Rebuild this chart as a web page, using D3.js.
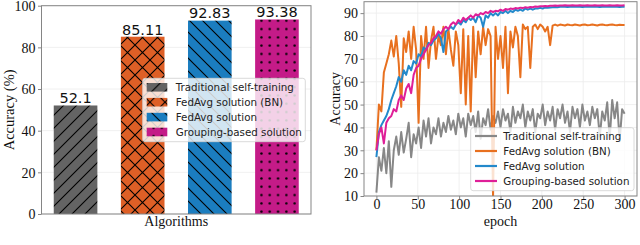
<!DOCTYPE html>
<html>
<head>
<meta charset="utf-8">
<script src="https://cdn.jsdelivr.net/npm/d3@7/dist/d3.min.js"></script>
<style>
  body { margin: 0; background: #fff; }
  svg { display: block; }
</style>
</head>
<body>
<div id="chart"></div>
<script>
// ---- data ----
const algorithms = ['Traditional self-training', 'FedAvg solution (BN)', 'FedAvg solution', 'Grouping-based solution'];
const finalAccuracy = [52.1, 85.11, 92.83, 93.38];
const barTicks = [0, 20, 40, 60, 80, 100];

const epochs = [0,3,6,9,12,15,18,21,24,27,30,33,36,39,42,45,48,51,54,57,60,63,66,69,72,75,78,81,84,87,90,93,96,99,
  102,105,108,111,114,117,120,123,126,129,132,135,138,141,144,147,150,153,156,159,162,165,168,171,174,177,180,183,186,189,
  192,195,198,201,204,207,210,213,216,219,222,225,228,231,234,237,240,243,246,249,252,255,258,261,264,267,270,273,276,279,
  282,285,288,291,294,297,300];
const epochTicks = [0, 50, 100, 150, 200, 250, 300];
const accTicks = [10, 20, 30, 40, 50, 60, 70, 80, 90];

const selfTraining = [11.5,27,21,31,20,34,14,30,36,28, 38,29,35,42,27,37,33,40,31,43, 36,44,33,40,37,44,36,42,38,45,
  39,43,37,46,40,44,36,46,41,45, 38,47,35,44,41,48,39,45,42,47, 40,48,43,46,38,49,42,47,44,50,
  40,47,43,48,38,46,44,50,41,47, 43,49,39,48,44,50,42,47,38,49, 44,48,40,50,43,47,41,49,44,48,
  36,47,43,51,35,52,44,51,34,48, 46];
const fedAvgBN = [30,50,47,64,68,72,78,71,80,68, 49,79,73,82,70,84,74,42,80,70, 84,66,78,84,70,80,76,84,72,83,
  74,67,82,76,55,83,50,80,47,84, 62,82,72,84,76,83,80,9,84,70, 80,66,84,55,82,75,84,80,62,85,
  83,84,66,84,85,83,85,84,82,84, 76,84.5,85,84.5,85,
  84.8,84.6,85,84.8,84.7,85,84.8,84.6,84.9,85, 84.7,84.8,85,84.8,84.6,84.9,85,84.8,84.7,84.9, 85,84.8,84.7,84.9,84.8,84.8];
const fedAvg = [27,38,41,43,45,48,52,55,58,62, 60,65,63,67,65,69,68,72,71,75, 74,77,76,78,79,81,79,73,82,83,
  84,83,85,86,85,87,86,88,87,88, 86,89,88,84,89,88,90,89,90,89, 90.5,90,91,90,91,90.5,91.5,91,91.5,91,
  92,91.5,92,91.5,92,92,92.3,92,92.5,92.3, 92.5,92.6,92.7,92.6,92.8,
  92.8,92.8,92.7,92.8,92.8,92.9,92.8,92.8,92.7,92.8, 92.8,92.8,92.9,92.8,92.8,92.7,92.8,92.8,92.8,92.9, 92.8,92.8,92.8,92.7,92.8,92.8];
const grouping = [30,37,40,33,42,44,45,48,47,52, 54,52,57,59,55,63,66,67,70,72, 74,76,77,79,80,82,81,83,84,83,
  85,86,85,87,86,88,87,88,89,88, 89.5,89,90,89.5,90.5,90,91,90.5,91,90.8, 91.5,91,91.8,91.5,92,91.8,92.2,92,92.4,92.2,
  92.6,92.4,92.7,92.6,92.9,92.8,93,93,93.1,93, 93.2,93.2,93.3,93.2,93.3,
  93.3,93.4,93.3,93.3,93.4,93.3,93.3,93.4,93.3,93.3, 93.4,93.3,93.3,93.4,93.3,93.3,93.4,93.3,93.3,93.4, 93.3,93.3,93.4,93.3,93.3,93.4];

const curves = [selfTraining, fedAvgBN, fedAvg, grouping];

// ---- style ----
const barColors = ['#646464', '#de5f26', '#1b7dbf', '#c41b88'];
const hatchKinds = ['/', 'x', '\\', '.'];
const lineColors = ['#878787', '#e8701f', '#2389cb', '#df1f98'];
const serif = '"Liberation Serif", "DejaVu Serif", serif';
const sans = '"DejaVu Sans", sans-serif';
const spineColor = '#858585';
const gridColor = '#ececec';

const svg = d3.select('#chart').append('svg')
  .attr('width', 640).attr('height', 245)
  .attr('viewBox', '0 0 640 245');
svg.append('rect').attr('width', 640).attr('height', 245).attr('fill', '#fff');

const defs = svg.append('defs');

// 填充图案（matplotlib hatch）
function addHatch(id, color, kind) {
  const s = kind === 'x' ? 15 : kind === '.' ? 8.3 : 13;
  const p = defs.append('pattern').attr('id', id)
    .attr('patternUnits', 'userSpaceOnUse').attr('width', s).attr('height', s);
  p.append('rect').attr('width', s).attr('height', s).attr('fill', color);
  const fwd = `M0,${s} L${s},0 M-3,3 L3,-3 M${s - 3},${s + 3} L${s + 3},${s - 3}`;
  const back = `M0,0 L${s},${s} M-3,${s - 3} L3,${s + 3} M${s - 3},-3 L${s + 3},3`;
  if (kind === '.') {
    p.append('circle').attr('cx', s / 2).attr('cy', s / 2).attr('r', 1.2).attr('fill', '#000');
  } else {
    const d = kind === '/' ? fwd : kind === '\\' ? back : fwd + ' ' + back;
    p.append('path').attr('d', d).attr('stroke', '#000').attr('stroke-width', 1.1).attr('fill', 'none');
  }
}
barColors.forEach((c, i) => addHatch('hatch' + i, c, hatchKinds[i]));

// ================= left: bar chart =================
const L = { left: 41.5, right: 311, top: 5.7, bottom: 214 };
const xBar = d3.scaleLinear().domain([-0.5075, 3.5075]).range([L.left, L.right]);
const yBar = d3.scaleLinear().domain([0, 100]).range([L.bottom, L.top]);
const barW = 0.65;

const left = svg.append('g');

left.append('g').selectAll('line').data(barTicks).join('line')
  .attr('x1', L.left).attr('x2', L.right)
  .attr('y1', d => yBar(d)).attr('y2', d => yBar(d))
  .attr('stroke', gridColor).attr('stroke-width', 0.8);

left.append('g').selectAll('rect').data(finalAccuracy).join('rect')
  .attr('x', (d, i) => xBar(i - barW / 2))
  .attr('width', (d, i) => xBar(i + barW / 2) - xBar(i - barW / 2))
  .attr('y', d => yBar(d))
  .attr('height', d => yBar(0) - yBar(d))
  .attr('fill', (d, i) => `url(#hatch${i})`);

left.append('g').selectAll('text').data(finalAccuracy).join('text')
  .attr('x', (d, i) => xBar(i))
  .attr('y', d => yBar(d) - 2.2)
  .attr('text-anchor', 'middle')
  .attr('font-family', sans).attr('font-size', 14.5).attr('fill', '#111')
  .text(d => d);

const yAxisL = left.append('g').attr('transform', `translate(${L.left},0)`)
  .call(d3.axisLeft(yBar).tickValues(barTicks).tickSize(3.5).tickPadding(2.5));
yAxisL.select('.domain').remove();
yAxisL.selectAll('line').attr('stroke', spineColor);
yAxisL.selectAll('text').attr('font-family', serif).attr('font-size', 14).attr('fill', '#111').attr('dy', '0.34em');

left.append('rect')
  .attr('x', L.left).attr('y', L.top)
  .attr('width', L.right - L.left).attr('height', L.bottom - L.top)
  .attr('fill', 'none').attr('stroke', spineColor).attr('stroke-width', 1);

left.append('text')
  .attr('x', (L.left + L.right) / 2).attr('y', 226)
  .attr('text-anchor', 'middle')
  .attr('font-family', serif).attr('font-size', 14).attr('fill', '#111')
  .text('Algorithms');

left.append('text')
  .attr('transform', `translate(13.5,${(L.top + L.bottom) / 2}) rotate(-90)`)
  .attr('text-anchor', 'middle')
  .attr('font-family', serif).attr('font-size', 14.5).attr('fill', '#111')
  .text('Accuracy (%)');

// legend (left)
const legL = left.append('g');
legL.append('rect')
  .attr('x', 142.7).attr('y', 78.3).attr('width', 162.6).attr('height', 63.4).attr('rx', 2.5)
  .attr('fill', '#fff').attr('fill-opacity', 0.8).attr('stroke', '#d0d0d0').attr('stroke-width', 0.8);
const legLRows = legL.selectAll('g.row').data(algorithms).join('g')
  .attr('class', 'row')
  .attr('transform', (d, i) => `translate(0,${87.3 + i * 14.9})`);
legLRows.append('rect')
  .attr('x', 146.7).attr('y', -4.3).attr('width', 20.6).attr('height', 8.6)
  .attr('fill', (d, i) => `url(#hatch${i})`);
legLRows.append('text')
  .attr('x', 175.7).attr('y', 0).attr('dy', '0.36em')
  .attr('font-family', sans).attr('font-size', 10.3).attr('fill', '#222')
  .text(d => d);

// ================= right: line chart =================
const R = { left: 364, right: 637, top: 1.7, bottom: 196 };
const xLine = d3.scaleLinear().domain([-15, 315]).range([R.left, R.right]);
const yLine = d3.scaleLinear().domain([10, 95]).range([R.bottom, R.top]);

const right = svg.append('g');

right.append('g').selectAll('line').data(accTicks).join('line')
  .attr('x1', R.left).attr('x2', R.right)
  .attr('y1', d => yLine(d)).attr('y2', d => yLine(d))
  .attr('stroke', gridColor).attr('stroke-width', 0.8);
right.append('g').selectAll('line').data(epochTicks).join('line')
  .attr('y1', R.top).attr('y2', R.bottom)
  .attr('x1', d => xLine(d)).attr('x2', d => xLine(d))
  .attr('stroke', gridColor).attr('stroke-width', 0.8);

defs.append('clipPath').attr('id', 'plotClip')
  .append('rect').attr('x', R.left).attr('y', R.top)
  .attr('width', R.right - R.left).attr('height', R.bottom - R.top);

const line = d3.line().x((d, i) => xLine(epochs[i])).y(d => yLine(d));
right.append('g').attr('clip-path', 'url(#plotClip)')
  .selectAll('path').data(curves).join('path')
  .attr('d', line)
  .attr('fill', 'none')
  .attr('stroke', (d, i) => lineColors[i])
  .attr('stroke-width', 2)
  .attr('stroke-linejoin', 'round');

const yAxisR = right.append('g').attr('transform', `translate(${R.left},0)`)
  .call(d3.axisLeft(yLine).tickValues(accTicks).tickSize(3.5).tickPadding(2.5));
const xAxisR = right.append('g').attr('transform', `translate(0,${R.bottom})`)
  .call(d3.axisBottom(xLine).tickValues(epochTicks).tickSize(3.5));
[yAxisR, xAxisR].forEach(a => {
  a.select('.domain').remove();
  a.selectAll('line').attr('stroke', spineColor);
  a.selectAll('text').attr('font-family', serif).attr('font-size', 14).attr('fill', '#111');
});
yAxisR.selectAll('text').attr('dy', '0.34em');
// 刻度文字基线约在 y=208.5
xAxisR.selectAll('text').attr('y', 12.5).attr('dy', null);

right.append('rect')
  .attr('x', R.left).attr('y', R.top)
  .attr('width', R.right - R.left).attr('height', R.bottom - R.top)
  .attr('fill', 'none').attr('stroke', spineColor).attr('stroke-width', 1);

right.append('text')
  .attr('x', (R.left + R.right) / 2).attr('y', 225.5)
  .attr('text-anchor', 'middle')
  .attr('font-family', serif).attr('font-size', 14).attr('fill', '#111')
  .text('epoch');

right.append('text')
  .attr('transform', `translate(339.5,${(R.top + R.bottom) / 2}) rotate(-90)`)
  .attr('text-anchor', 'middle')
  .attr('font-family', serif).attr('font-size', 14).attr('fill', '#111')
  .text('Accuracy');

// legend (right)
const legR = right.append('g');
legR.append('rect')
  .attr('x', 470.7).attr('y', 127.7).attr('width', 163.3).attr('height', 63).attr('rx', 2.5)
  .attr('fill', '#fff').attr('fill-opacity', 0.8).attr('stroke', '#d0d0d0').attr('stroke-width', 0.8);
const legRRows = legR.selectAll('g.row').data(algorithms).join('g')
  .attr('class', 'row')
  .attr('transform', (d, i) => `translate(0,${136 + i * 15})`);
legRRows.append('line')
  .attr('x1', 475).attr('x2', 497).attr('y1', 0).attr('y2', 0)
  .attr('stroke', (d, i) => lineColors[i]).attr('stroke-width', 2.2);
legRRows.append('text')
  .attr('x', 503.3).attr('y', 0).attr('dy', '0.36em')
  .attr('font-family', sans).attr('font-size', 10.3).attr('fill', '#222')
  .text(d => d);
</script>
</body>
</html>
